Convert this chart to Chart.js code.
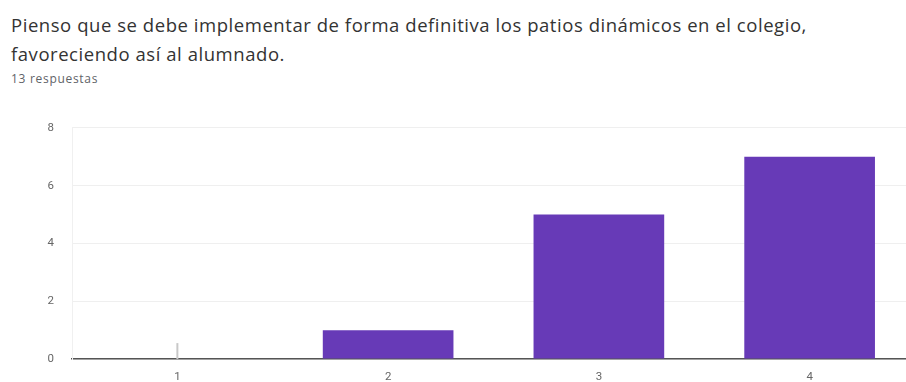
<!DOCTYPE html>
<html>
<head>
<meta charset="utf-8">
<script src="https://cdn.jsdelivr.net/npm/chart.js@4.4.1/dist/chart.umd.min.js"></script>
<style>
  html, body { margin: 0; padding: 0; background: #fff; overflow: hidden; width: 906px; height: 382px; }
  .title { position: absolute; left: 11px; top: 10px; font-family: "Open Sans", sans-serif; font-size: 18.5px; letter-spacing: 0.55px; line-height: 29px; color: #333; }
  .sub { position: absolute; left: 11px; top: 70px; font-family: "Open Sans", sans-serif; font-size: 12px; letter-spacing: 0.7px; color: #5f6368; }
  .chart-box { position: absolute; left: 0; top: 103px; width: 915px; height: 281px; }
</style>
</head>
<body>
<div class="title">Pienso que se debe implementar de forma definitiva los patios dinámicos en el colegio,<br>favoreciendo así al alumnado.</div>
<div class="sub">13 respuestas</div>
<div class="chart-box"><canvas id="grafico"></canvas></div>
<script>
const categorias = ["1", "2", "3", "4"];
const respuestas = [0, 1, 5, 7];
const ticksY = [0, 2, 4, 6, 8];

// marca gris corta para las categorías sin respuestas
const marcaCero = {
  id: "marcaCero",
  afterDatasetsDraw(chart) {
    const ctx = chart.ctx;
    const x = chart.scales.x;
    const y = chart.scales.y;
    ctx.save();
    ctx.strokeStyle = "#c8c8c8";
    ctx.lineWidth = 2;
    respuestas.forEach((v, i) => {
      if (v !== 0) return;
      const px = x.getPixelForValue(i);
      ctx.beginPath();
      ctx.moveTo(px, y.getPixelForValue(0));
      ctx.lineTo(px, y.getPixelForValue(0) - 16);
      ctx.stroke();
    });
    ctx.restore();
  }
};

new Chart(document.getElementById("grafico"), {
  type: "bar",
  data: {
    labels: categorias,
    datasets: [{
      data: respuestas,
      backgroundColor: "#673ab7",
      barPercentage: 0.62,
      categoryPercentage: 1
    }]
  },
  options: {
    responsive: true,
    maintainAspectRatio: false,
    animation: false,
    layout: { padding: { top: 12, left: 0, right: 0, bottom: 0 } },
    plugins: { legend: { display: false }, tooltip: { enabled: false } },
    scales: {
      x: {
        afterFit: (s) => { s.height = 21; },
        grid: { display: false, drawTicks: false },
        border: { color: "#555", width: 1.5 },
        ticks: { padding: 11, color: "#666", font: { family: "Roboto", size: 11.5 } }
      },
      y: {
        min: 0,
        max: 8,
        afterFit: (s) => { s.width = 72; },
        afterBuildTicks: (s) => { s.ticks = ticksY.map((v) => ({ value: v })); },
        grid: { color: "#efefef", drawTicks: false },
        border: { color: "#f0f0f0" },
        ticks: { padding: 18, color: "#666", font: { family: "Roboto", size: 11.5 } }
      }
    }
  },
  plugins: [marcaCero]
});
</script>
</body>
</html>
